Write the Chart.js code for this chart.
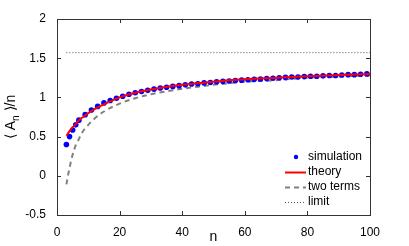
<!DOCTYPE html>
<html>
<head>
<meta charset="utf-8">
<script src="https://cdn.jsdelivr.net/npm/chart.js@4"></script>
<style>
  html, body { margin: 0; padding: 0; background: #fff; }
  #wrap { width: 409px; height: 246px; }
</style>
</head>
<body>
<div id="wrap"><canvas id="chart" width="409" height="246"></canvas></div>
<script>
// simulation points
const nSim = [3, 4, 5, 6, 7, 9, 11, 13, 15, 17, 19, 21, 23, 25, 27, 29, 31, 33, 35, 37, 39,
    41, 43, 45, 47, 49, 51, 53, 55, 57, 59, 61, 63, 65, 67, 69, 71, 73, 75, 77, 79,
    81, 83, 85, 87, 89, 91, 93, 95, 97, 99];
const simValues = [0.40, 0.50, 0.585, 0.65, 0.71, 0.78, 0.84, 0.885, 0.93, 0.96, 0.99, 1.015, 1.04, 1.06, 1.075, 1.09, 1.105, 1.12, 1.13, 1.14, 1.15,
    1.16, 1.17, 1.175, 1.185, 1.19, 1.20, 1.205, 1.21, 1.215, 1.22, 1.225, 1.23, 1.235, 1.24, 1.245, 1.25, 1.255, 1.26, 1.26, 1.265,
    1.27, 1.27, 1.275, 1.28, 1.28, 1.285, 1.29, 1.29, 1.295, 1.30];

// theory and two-term curves
const nCurve = [3, 4, 5, 6, 7, 8, 10, 12, 15, 20, 25, 30, 40, 50, 60, 70, 80, 90, 100];
const theoryValues = [0.51, 0.57, 0.62, 0.66, 0.71, 0.74, 0.80, 0.85, 0.91, 1.00, 1.06, 1.10, 1.16, 1.20, 1.23, 1.25, 1.27, 1.285, 1.30];
const twoTermValues = [-0.11, 0.10, 0.27, 0.39, 0.47, 0.55, 0.65, 0.73, 0.82, 0.92, 0.99, 1.04, 1.11, 1.16, 1.20, 1.22, 1.25, 1.265, 1.28];

// limit pi/2
const nLimit = [3, 100];
const limitValues = [1.5708, 1.5708];

const xTicks = [0, 20, 40, 60, 80, 100];
const yTicks = [-0.5, 0, 0.5, 1, 1.5, 2];

const FONT = '"Liberation Sans", Arial, sans-serif';

function toPoints(xs, ys) {
    return xs.map((x, i) => ({ x: x, y: ys[i] }));
}

// box, inward ticks, y label and legend
const frame = {
    id: 'frame',
    afterDraw(chart) {
        const ctx = chart.ctx;
        const a = chart.chartArea;
        const sx = chart.scales.x, sy = chart.scales.y;
        ctx.save();
        ctx.strokeStyle = '#333';
        ctx.lineWidth = 1;
        ctx.strokeRect(Math.round(a.left) + 0.5, Math.round(a.top) + 0.5,
            Math.round(a.right - a.left), Math.round(a.bottom - a.top));
        ctx.beginPath();
        xTicks.forEach(t => {
            const px = Math.round(sx.getPixelForValue(t)) + 0.5;
            ctx.moveTo(px, a.bottom); ctx.lineTo(px, a.bottom - 4);
            ctx.moveTo(px, a.top); ctx.lineTo(px, a.top + 4);
        });
        yTicks.forEach(t => {
            const py = Math.round(sy.getPixelForValue(t)) + 0.5;
            ctx.moveTo(a.left, py); ctx.lineTo(a.left + 4, py);
            ctx.moveTo(a.right, py); ctx.lineTo(a.right - 4, py);
        });
        ctx.stroke();

        // x label
        ctx.fillStyle = '#000';
        ctx.font = '14px ' + FONT;
        ctx.textAlign = 'center';
        ctx.textBaseline = 'middle';
        ctx.fillText('n', (a.left + a.right) / 2, 237);

        // y label with subscript
        ctx.translate(10, (a.top + a.bottom) / 2);
        ctx.rotate(-Math.PI / 2);
        ctx.textAlign = 'left';
        ctx.textBaseline = 'alphabetic';
        const p1 = '\u27E8 A', p2 = 'n', p3 = ' \u27E9/n';
        ctx.font = '14px ' + FONT;
        const w1 = ctx.measureText(p1).width, w3 = ctx.measureText(p3).width;
        ctx.font = '10px ' + FONT;
        const w2 = ctx.measureText(p2).width;
        let x0 = -(w1 + w2 + w3) / 2;
        ctx.font = '14px ' + FONT;
        ctx.fillText(p1, x0, 5);
        ctx.font = '10px ' + FONT;
        ctx.fillText(p2, x0 + w1, 9);
        ctx.font = '14px ' + FONT;
        ctx.fillText(p3, x0 + w1 + w2, 5);
        ctx.restore();

        // legend
        ctx.save();
        ctx.font = '12px ' + FONT;
        ctx.textBaseline = 'middle';
        ctx.fillStyle = '#000';
        const rows = [157, 172, 187, 202];
        chart.data.datasets.forEach((ds, i) => {
            const y = rows[i];
            if (ds.showLine === false) {
                ctx.fillStyle = ds.pointBackgroundColor;
                ctx.beginPath();
                ctx.arc(296, y, 2.2, 0, Math.PI * 2);
                ctx.fill();
            } else {
                ctx.strokeStyle = ds.borderColor;
                ctx.lineWidth = ds.borderWidth;
                ctx.setLineDash(ds.borderDash || []);
                ctx.beginPath();
                ctx.moveTo(285, y + 0.5); ctx.lineTo(306, y + 0.5);
                ctx.stroke();
                ctx.setLineDash([]);
            }
            ctx.fillStyle = '#000';
            ctx.fillText(ds.label, 308, y);
        });
        ctx.restore();
    }
};

new Chart(document.getElementById('chart'), {
    type: 'scatter',
    data: {
        datasets: [
            {
                label: 'simulation',
                data: toPoints(nSim, simValues),
                showLine: false,
                pointRadius: 2.8,
                pointBackgroundColor: '#0000ff',
                pointBorderWidth: 0,
                order: 1
            },
            {
                label: 'theory',
                data: toPoints(nCurve, theoryValues),
                showLine: true,
                borderColor: '#ff0000',
                borderWidth: 2,
                pointRadius: 0,
                cubicInterpolationMode: 'monotone',
                order: 0
            },
            {
                label: 'two terms',
                data: toPoints(nCurve, twoTermValues),
                showLine: true,
                borderColor: '#808080',
                borderWidth: 2,
                borderDash: [5, 4],
                pointRadius: 0,
                cubicInterpolationMode: 'monotone',
                order: 2
            },
            {
                label: 'limit',
                data: toPoints(nLimit, limitValues),
                showLine: true,
                borderColor: '#555',
                borderWidth: 1,
                borderDash: [1, 2],
                pointRadius: 0,
                order: 3
            }
        ]
    },
    options: {
        responsive: false,
        animation: false,
        layout: { padding: { top: 19, right: 39, left: 0, bottom: 0 } },
        plugins: { legend: { display: false }, tooltip: { enabled: false } },
        scales: {
            x: {
                type: 'linear', min: 0, max: 100,
                grid: { display: false },
                border: { display: false },
                afterFit(s) { s.height = 31; },
                ticks: { stepSize: 20, color: '#000', padding: 2, maxRotation: 0,
                    font: { family: FONT, size: 12 } }
            },
            y: {
                min: -0.5, max: 2,
                grid: { display: false },
                border: { display: false },
                afterFit(s) { s.width = 57; },
                ticks: { stepSize: 0.5, color: '#000', padding: 3,
                    font: { family: FONT, size: 12 },
                    callback: v => String(v) }
            }
        }
    },
    plugins: [frame]
});
</script>
</body>
</html>
